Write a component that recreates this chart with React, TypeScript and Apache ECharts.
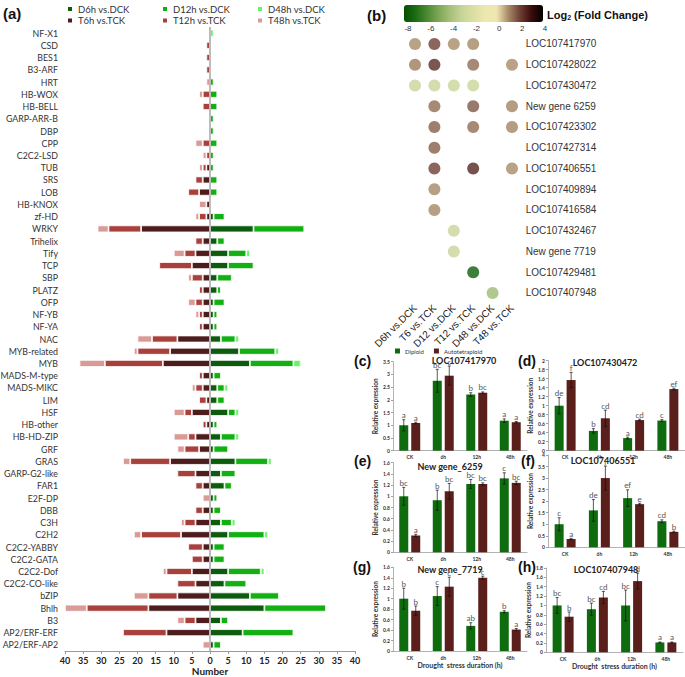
import React, { useEffect, useRef } from 'react';
import * as echarts from 'echarts';

// ---------- Panel (a): DEG transcription factor families ----------
const families = [
  'NF-X1', 'CSD', 'BES1', 'B3-ARF', 'HRT', 'HB-WOX', 'HB-BELL', 'GARP-ARR-B', 'DBP', 'CPP',
  'C2C2-LSD', 'TUB', 'SRS', 'LOB', 'HB-KNOX', 'zf-HD', 'WRKY', 'Trihelix', 'Tify', 'TCP',
  'SBP', 'PLATZ', 'OFP', 'NF-YB', 'NF-YA', 'NAC', 'MYB-related', 'MYB', 'MADS-M-type', 'MADS-MIKC',
  'LIM', 'HSF', 'HB-other', 'HB-HD-ZIP', 'GRF', 'GRAS', 'GARP-G2-like', 'FAR1', 'E2F-DP', 'DBB',
  'C3H', 'C2H2', 'C2C2-YABBY', 'C2C2-GATA', 'C2C2-Dof', 'C2C2-CO-like', 'bZIP', 'Bhlh', 'B3', 'AP2/ERF-ERF',
  'AP2/ERF-AP2',
];
const t6h = [0,0,0,0,0,0,0,0,0,0, 0,1,2,3,1,1,19,2,4,5, 2,2,2,2,2,9,11,13,2,2, 1,5,1,4,3,11,4,2,0,2, 4,8,2,2,5,4,9,17,4,12, 0];
const t12h = [0,1,1,1,0,2,2,0,0,2, 1,1,2,3,0,2,9,2,3,9, 3,1,2,1,1,7,9,16,1,2, 2,2,1,2,4,11,5,2,0,2, 3,11,4,3,7,5,8,17,3,12, 0];
const t48h = [0,0,0,0,1,1,0,0,0,2, 1,1,0,0,2,1,3,0,3,0, 1,0,2,1,0,4,1,7,0,1, 0,3,0,4,2,2,0,0,2,0, 1,2,0,0,1,0,4,6,2,0, 2];
const d6h = [0,0,0,0,0,0,0,0,0,0, 0,0,0,0,0,1,12,2,5,5, 2,2,1,1,1,3,8,11,1,2, 2,5,1,3,1,7,3,4,1,1, 3,5,1,1,5,4,11,15,3,9, 1];
const d12h = [0,0,0,0,1,2,2,1,1,2, 1,1,2,2,0,3,14,2,5,7, 4,1,3,1,1,4,10,12,2,2, 2,2,1,4,4,9,4,2,1,2, 3,10,3,3,9,6,8,17,2,14, 2];
const d48h = [1,0,0,0,0,0,0,0,0,0, 0,0,0,0,0,0,0,0,1,0, 0,0,0,0,0,1,1,2,0,1, 0,1,0,1,0,1,0,0,0,0, 1,1,0,0,1,0,0,0,0,0, 0];
const numberTicks = { min: -40, max: 40, step: 5 };

// ---------- Panel (b): log2 fold change dots ----------
const comparisons = ['D6h vs.DCK', 'T6 vs.TCK', 'D12 vs.DCK', 'T12 vs.TCK', 'D48 vs.DCK', 'T48 vs.TCK'];
const genes = [
  'LOC107417970', 'LOC107428022', 'LOC107430472', 'New gene 6259', 'LOC107423302', 'LOC107427314',
  'LOC107406551', 'LOC107409894', 'LOC107416584', 'LOC107432467', 'New gene 7719', 'LOC107429481', 'LOC107407948',
];
// [comparison index, gene index, log2 fold change]
const foldDots = [
  [0, 0, 1.0], [1, 0, 2.0], [2, 0, 1.0], [3, 0, 1.05],
  [0, 1, 1.2], [1, 1, 2.4], [3, 1, 1.4], [5, 1, 1.0],
  [0, 2, -3], [1, 2, -3], [2, 2, -3], [3, 2, -3],
  [1, 3, 1.4], [3, 3, 1.7], [5, 3, 1.1],
  [1, 4, 1.6], [3, 4, 1.4], [5, 4, 1.1],
  [1, 5, 1.6],
  [1, 6, 2.0], [3, 6, 2.5], [5, 6, 1.0],
  [1, 7, 1.05],
  [1, 8, 1.05],
  [2, 9, -3],
  [2, 10, -3],
  [3, 11, -7.5],
  [4, 12, -4.2],
];
const colorbarRange = { min: -8, max: 4, step: 2 };
const colorbarColors = ['#005000', '#1c6c14', '#4c8a32', '#7fa658', '#a6c07a', '#c8d598', '#dcdfa4', '#ede8ae', '#efe6b2', '#a88b68', '#6f4034', '#3a0c0a', '#000000'];

// ---------- Panels (c)-(h): qRT-PCR ----------
const durations = ['CK', '6h', '12h', '48h'];
const panelC = { tag: '(c)', gene: 'LOC107417970', max: 3.5, step: 0.5,
  dip: [1.0, 2.75, 2.21, 1.18], dipErr: [0.22, 0.45, 0.07, 0.07], dipSig: ['a', 'bc', 'b', 'a'],
  tet: [1.09, 2.95, 2.28, 1.12], tetErr: [0.03, 0.38, 0.03, 0.03], tetSig: ['a', 'c', 'bc', 'a'] };
const panelD = { tag: '(d)', gene: 'LOC107430472', max: 2, step: 0.2,
  dip: [1.0, 0.44, 0.28, 0.67], dipErr: [0.18, 0.05, 0.02, 0.02], dipSig: ['de', 'b', 'a', 'c'],
  tet: [1.57, 0.72, 0.68, 1.37], tetErr: [0.17, 0.18, 0.02, 0.02], tetSig: ['f', 'cd', 'cd', 'ef'] };
const panelE = { tag: '(e)', gene: 'New gene_6259', max: 1.6, step: 0.2,
  dip: [1.0, 0.93, 1.22, 1.32], dipErr: [0.16, 0.18, 0.08, 0.1], dipSig: ['bc', 'b', 'bc', 'c'],
  tet: [0.30, 1.09, 1.22, 1.24], tetErr: [0.02, 0.14, 0.02, 0.03], tetSig: ['a', 'bc', 'bc', 'bc'] };
const panelF = { tag: '(f)', gene: 'LOC107406551', max: 4, step: 0.5,
  dip: [1.0, 1.6, 2.13, 1.13], dipErr: [0.28, 0.47, 0.36, 0.06], dipSig: ['c', 'de', 'ef', 'cd'],
  tet: [0.36, 3.0, 1.87, 0.67], tetErr: [0.03, 0.52, 0.04, 0.03], tetSig: ['a', 'f', 'e', 'b'] };
const panelG = { tag: '(g)', gene: 'New gene_7719', max: 1.6, step: 0.2,
  dip: [1.0, 1.05, 0.48, 0.75], dipErr: [0.2, 0.18, 0.06, 0.02], dipSig: ['b', 'c', 'ab', 'b'],
  tet: [0.77, 1.23, 1.40, 0.41], tetErr: [0.09, 0.18, 0.03, 0.02], tetSig: ['b', 'c', 'c', 'a'] };
const panelH = { tag: '(h)', gene: 'LOC107407948', max: 1.8, step: 0.2,
  dip: [1.0, 0.92, 1.0, 0.21], dipErr: [0.17, 0.13, 0.33, 0.01], dipSig: ['bc', 'bc', 'bc', 'a'],
  tet: [0.76, 1.17, 1.52, 0.21], tetErr: [0.1, 0.13, 0.17, 0.01], tetSig: ['b', 'cd', 'd', 'a'] };

// ---------- layout / styles ----------
const aColors = {
  'D6h vs.DCK': '#0d5c0d', 'D12h vs.DCK': '#12b012', 'D48h vs.DCK': '#66f566',
  'T6h vs.TCK': '#4d1c1c', 'T12h vs.TCK': '#a8403c', 'T48h vs.TCK': '#da9a96',
};
const DIP_COLOR = '#0e6b0e';
const TET_COLOR = '#5a1e1b';
const SANS = 'Liberation Sans';
const CAL = 'Lato';

const smallLayout = [
  { grid: { left: 393, top: 361.7, width: 134, height: 89 }, tagPos: [354, 361], titlePos: [464, 360], xName: false },
  { grid: { left: 548, top: 360.7, width: 137, height: 90 }, tagPos: [518, 361], titlePos: [605, 362], xName: false },
  { grid: { left: 393, top: 462.7, width: 134, height: 89.6 }, tagPos: [354, 461], titlePos: [450, 466], xName: false },
  { grid: { left: 548, top: 455, width: 137, height: 92.3 }, tagPos: [521, 461], titlePos: [603, 460], xName: false },
  { grid: { left: 393, top: 567.3, width: 134, height: 83.7 }, tagPos: [353, 567], titlePos: [450, 569], xName: true },
  { grid: { left: 546, top: 568, width: 137, height: 84.3 }, tagPos: [518, 567], titlePos: [606, 569], xName: true },
];

function buildOption() {
  const panels = [panelC, panelD, panelE, panelF, panelG, panelH];
  const grids: any[] = [
    { left: 65, top: 27, width: 290, height: 624, outerBoundsMode: 'none' },
    { left: 405.3, top: 33.6, width: 116.4, height: 269.75, outerBoundsMode: 'none' },
    { left: 408, top: 5, width: 137, height: 17, outerBoundsMode: 'none' },
  ];
  const xAxes: any[] = [
    {
      type: 'value', gridIndex: 0, min: numberTicks.min, max: numberTicks.max, interval: numberTicks.step,
      axisLine: { show: true, lineStyle: { color: '#999', width: 1 } },
      axisTick: { show: true, length: 3, lineStyle: { color: '#999' } },
      axisLabel: { fontSize: 9, color: '#222', margin: 5, fontFamily: CAL, fontWeight: 'bold', formatter: (v: number) => String(Math.abs(v)) },
      splitLine: { show: false },
      name: 'Number', nameLocation: 'middle', nameGap: 14, nameMoveOverlap: false,
      nameTextStyle: { fontSize: 10, fontWeight: 'bold', color: '#222', fontFamily: CAL, lineHeight: 11 },
    },
    {
      type: 'category', gridIndex: 1, data: comparisons,
      axisLine: { show: false }, axisTick: { show: false },
      axisLabel: { rotate: 45, interval: 0, fontSize: 10, color: '#222', margin: 3, fontFamily: SANS },
    },
    {
      type: 'value', gridIndex: 2, min: colorbarRange.min, max: colorbarRange.max, interval: colorbarRange.step,
      axisLine: { show: false }, axisTick: { show: false }, splitLine: { show: false },
      axisLabel: { fontSize: 8, color: '#333', margin: 2, fontFamily: SANS },
    },
  ];
  const yAxes: any[] = [
    {
      type: 'category', gridIndex: 0, data: families, inverse: true,
      axisLine: { show: false }, axisTick: { show: false },
      axisLabel: { interval: 0, fontSize: 8.8, color: '#333', margin: 7, fontFamily: CAL },
    },
    {
      type: 'category', gridIndex: 1, data: genes, inverse: true, position: 'right',
      axisLine: { show: false }, axisTick: { show: false },
      axisLabel: { interval: 0, fontSize: 10, color: '#333', margin: 4, fontFamily: SANS },
    },
    { type: 'value', gridIndex: 2, show: false, min: 0, max: 1 },
  ];

  const series: any[] = [];
  const rightNames = ['D6h vs.DCK', 'D12h vs.DCK', 'D48h vs.DCK'];
  const leftNames = ['T6h vs.TCK', 'T12h vs.TCK', 'T48h vs.TCK'];
  const rightData = [d6h, d12h, d48h];
  const leftData = [t6h, t12h, t48h];
  rightNames.forEach((name, k) => {
    series.push({
      name, type: 'bar', xAxisIndex: 0, yAxisIndex: 0, stack: 'deg', barWidth: 7,
      data: rightData[k].map((v) => (v ? v : '-')),
      itemStyle: { color: (aColors as any)[name], borderColor: '#fff', borderWidth: 0.8 },
      ...(k === 0 ? {
        markLine: {
          silent: true, symbol: 'none', label: { show: false },
          lineStyle: { color: '#bcbcbc', width: 2, type: 'solid' },
          data: [{ xAxis: 0 }],
        },
      } : {}),
    });
  });
  leftNames.forEach((name, k) => {
    series.push({
      name, type: 'bar', xAxisIndex: 0, yAxisIndex: 0, stack: 'deg', barWidth: 7,
      data: leftData[k].map((v) => (v ? -v : '-')),
      itemStyle: { color: (aColors as any)[name], borderColor: '#fff', borderWidth: 0.8 },
    });
  });

  const scatterIndex = series.length;
  series.push({
    name: 'log2FC', type: 'scatter', xAxisIndex: 1, yAxisIndex: 1, symbolSize: 12,
    data: foldDots.map(([c, g, v]) => [c, g, v]),
  });

  panels.forEach((p, i) => {
    const lay = smallLayout[i];
    const gi = grids.length;
    grids.push({ ...lay.grid, outerBoundsMode: 'none' });
    xAxes.push({
      type: 'category', gridIndex: gi, data: durations,
      axisLine: { show: true, lineStyle: { color: '#a0a0a0', width: 0.8 } },
      axisTick: { show: false },
      axisLabel: { fontSize: 5, color: '#333', margin: 4, fontWeight: 'bold', fontFamily: CAL },
      ...(lay.xName ? {
        name: 'Drought  stress duration (h)', nameLocation: 'middle', nameGap: 10,
        nameTextStyle: { fontSize: 7, fontWeight: 'bold', color: '#333', fontFamily: CAL },
      } : {}),
    });
    yAxes.push({
      type: 'value', gridIndex: gi, min: 0, max: p.max, interval: p.step,
      axisLine: { show: true, lineStyle: { color: '#a0a0a0', width: 0.8 } },
      axisTick: { show: true, length: 2, lineStyle: { color: '#a0a0a0' } },
      axisLabel: { fontSize: 5, color: '#333', margin: 3, fontWeight: 'bold', fontFamily: CAL },
      splitLine: { show: false },
      name: 'Relative expression', nameLocation: 'middle', nameGap: 12,
      nameTextStyle: { fontSize: 6.5, fontWeight: 'bold', color: '#333', fontFamily: CAL },
    });
    const ai = xAxes.length - 1;
    const groups = [
      { name: 'Diploid', vals: p.dip, err: p.dipErr, sig: p.dipSig, color: DIP_COLOR, off: -6 },
      { name: 'Autotetraploid', vals: p.tet, err: p.tetErr, sig: p.tetSig, color: TET_COLOR, off: 6 },
    ];
    groups.forEach((g) => {
      series.push({
        name: g.name, type: 'bar', xAxisIndex: ai, yAxisIndex: ai, barWidth: 9, barGap: '33%',
        data: g.vals, itemStyle: { color: g.color },
      });
    });
    groups.forEach((g) => {
      series.push({
        name: 'err-' + g.name, type: 'custom', xAxisIndex: ai, yAxisIndex: ai, z: 5,
        data: g.vals.map((v, k) => [k, v, g.err[k]]),
        renderItem: (params: any, api: any) => {
          const k = api.value(0);
          const v = api.value(1);
          const e = api.value(2);
          const top = api.coord([k, v + e]);
          const bot = api.coord([k, v - e]);
          const x = top[0] + g.off;
          const st = { stroke: '#111', lineWidth: 0.7 };
          return {
            type: 'group',
            children: [
              { type: 'line', shape: { x1: x, y1: top[1], x2: x, y2: bot[1] }, style: st },
              { type: 'line', shape: { x1: x - 1.5, y1: top[1], x2: x + 1.5, y2: top[1] }, style: st },
              { type: 'line', shape: { x1: x - 1.5, y1: bot[1], x2: x + 1.5, y2: bot[1] }, style: st },
              {
                type: 'text', x, y: top[1] - 0.5,
                style: { text: g.sig[params.dataIndex], textAlign: 'center', textVerticalAlign: 'bottom', fontSize: 8, fill: '#555', fontFamily: CAL },
              },
            ],
          };
        },
      });
    });
  });

  const graphics: any[] = [
    { type: 'text', x: 3, y: 13, style: { text: '(a)', fontSize: 15, fontWeight: 'bold', fill: '#111', fontFamily: SANS, textVerticalAlign: 'middle' } },
    { type: 'text', x: 367, y: 15, style: { text: '(b)', fontSize: 15, fontWeight: 'bold', fill: '#111', fontFamily: SANS, textVerticalAlign: 'middle' } },
    {
      type: 'text', x: 547, y: 15,
      style: {
        text: '{a|Log}{s|2}{a| (Fold Change)}', textVerticalAlign: 'middle', fill: '#111',
        rich: {
          a: { fontSize: 11, fontWeight: 'bold', fontFamily: SANS, fill: '#111', verticalAlign: 'middle' },
          s: { fontSize: 7, fontWeight: 'bold', fontFamily: SANS, fill: '#111', verticalAlign: 'bottom' },
        },
      },
    },
  ];
  panels.forEach((p, i) => {
    const lay = smallLayout[i];
    graphics.push({ type: 'text', x: lay.tagPos[0], y: lay.tagPos[1], style: { text: p.tag, fontSize: 14, fontWeight: 'bold', fill: '#111', fontFamily: SANS, textVerticalAlign: 'middle' } });
    graphics.push({ type: 'text', x: lay.titlePos[0], y: lay.titlePos[1], style: { text: p.gene, fontSize: 9, fontWeight: 'bold', fill: '#222', fontFamily: CAL, textAlign: 'center', textVerticalAlign: 'middle' } });
  });

  const legendPos = [
    ['D6h vs.DCK', 66, 4], ['D12h vs.DCK', 161, 4], ['D48h vs.DCK', 256, 4],
    ['T6h vs.TCK', 66, 15.5], ['T12h vs.TCK', 161, 15.5], ['T48h vs.TCK', 256, 15.5],
  ];
  const legends: any[] = legendPos.map(([name, left, top]) => ({
    data: [name], left, top, padding: 0, itemWidth: 6, itemHeight: 6, icon: 'rect',
    textStyle: { fontSize: 9.5, color: '#333', fontFamily: CAL }, selectedMode: false,
  }));
  legends.push({
    data: ['Diploid', 'Autotetraploid'], left: 395, top: 348, padding: 0, itemWidth: 5, itemHeight: 5, itemGap: 10, icon: 'rect',
    textStyle: { fontSize: 6, color: '#333', fontFamily: CAL }, selectedMode: false,
  });

  return {
    animation: false,
    backgroundColor: '#fff',
    textStyle: { fontFamily: CAL },
    grid: grids,
    xAxis: xAxes,
    yAxis: yAxes,
    legend: legends,
    visualMap: [{
      type: 'continuous', seriesIndex: scatterIndex, dimension: 2,
      min: colorbarRange.min, max: colorbarRange.max, orient: 'horizontal',
      left: 404, top: 5, itemWidth: 17, itemHeight: 139, padding: 0,
      calculable: false, realtime: false, hoverLink: false,
      inRange: { color: colorbarColors },
    }],
    graphic: graphics,
    series,
  };
}

export default function App() {
  const ref = useRef<HTMLDivElement>(null);
  useEffect(() => {
    const chart = echarts.init(ref.current as HTMLDivElement, null, { renderer: 'svg' });
    chart.setOption(buildOption() as any);
    return () => chart.dispose();
  }, []);
  return <div ref={ref} style={{ position: 'absolute', left: 0, top: 0, width: 685, height: 677 }} />;
}
